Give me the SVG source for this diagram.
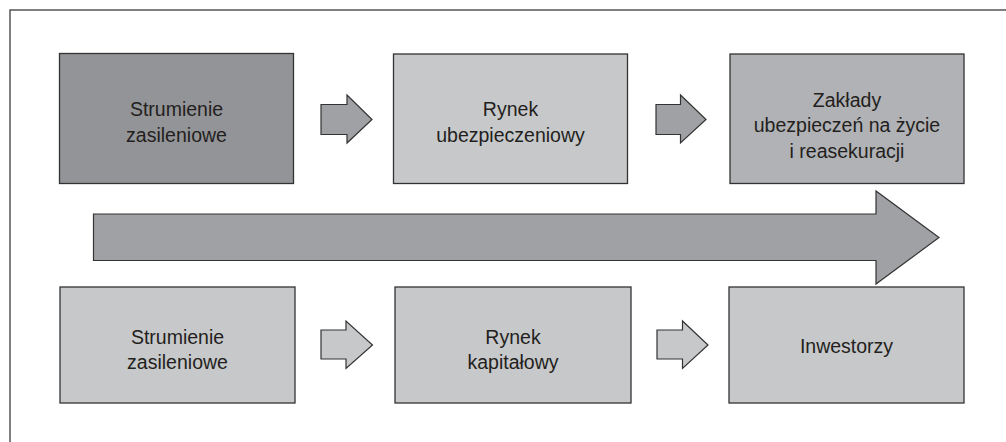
<svg xmlns="http://www.w3.org/2000/svg" width="1006" height="442" viewBox="0 0 1006 442">
  <style>
    .box { stroke: #333333; stroke-width: 1.3; }
    .dark { fill: #939497; }
    .mid { fill: #b1b2b5; }
    .light { fill: #c7c8ca; }
    .arrow { stroke: #333333; stroke-width: 1.2; stroke-linejoin: miter; }
    .arrow-dark { fill: #a0a1a4; }
    .arrow-light { fill: #c7c8ca; }
    .frame { stroke: #555555; stroke-width: 1.5; fill: none; }
    text { font-family: "Liberation Sans", Arial, sans-serif; font-size: 19.5px; fill: #231f20; text-anchor: middle; }
  </style>

  <!-- frame: top and left border -->
  <path class="frame" d="M10,442 L10,10 L1006,10"/>

  <!-- top row -->
  <g id="node-strumienie-top">
    <rect class="box dark" x="59.5" y="53.5" width="234" height="130"/>
    <text x="176.5" y="116">Strumienie</text>
    <text x="176.5" y="142">zasileniowe</text>
  </g>
  <g id="node-rynek-ubezpieczeniowy">
    <rect class="box light" x="393.5" y="54" width="234" height="129.5"/>
    <text x="510.5" y="116">Rynek</text>
    <text x="510.5" y="141.5">ubezpieczeniowy</text>
  </g>
  <g id="node-zaklady">
    <rect class="box mid" x="730" y="54" width="234" height="129.5"/>
    <text x="847" y="106.5">Zakłady</text>
    <text x="847" y="132">ubezpieczeń na życie</text>
    <text x="847" y="157.5">i reasekuracji</text>
  </g>

  <!-- bottom row -->
  <g id="node-strumienie-bottom">
    <rect class="box light" x="60" y="287" width="235" height="116"/>
    <text x="177.5" y="343.5">Strumienie</text>
    <text x="177.5" y="368.5">zasileniowe</text>
  </g>
  <g id="node-rynek-kapitalowy">
    <rect class="box light" x="395" y="287" width="236" height="116"/>
    <text x="513" y="343.5">Rynek</text>
    <text x="513" y="368.5">kapitałowy</text>
  </g>
  <g id="node-inwestorzy">
    <rect class="box light" x="729" y="287" width="235" height="116"/>
    <text x="846.5" y="353">Inwestorzy</text>
  </g>

  <!-- connectors: block arrows -->
  <g id="connectors">
    <path class="arrow arrow-dark" d="M321,104.5 L347,104.5 L347,95 L372,119.5 L347,143 L347,134.5 L321,134.5 Z"/>
    <path class="arrow arrow-dark" d="M656,104.5 L680.5,104.5 L680.5,95 L706,119.5 L680.5,143 L680.5,134.5 L656,134.5 Z"/>
    <path class="arrow arrow-dark" d="M93.5,214 L876,214 L876,191 L939,237.5 L876,284 L876,260.5 L93.5,260.5 Z"/>
    <path class="arrow arrow-light" d="M321,330 L346,330 L346,321 L372.5,345 L346,368.5 L346,359 L321,359 Z"/>
    <path class="arrow arrow-light" d="M657,330 L682.5,330 L682.5,321 L708,345 L682.5,368.5 L682.5,359 L657,359 Z"/>
  </g>
</svg>
